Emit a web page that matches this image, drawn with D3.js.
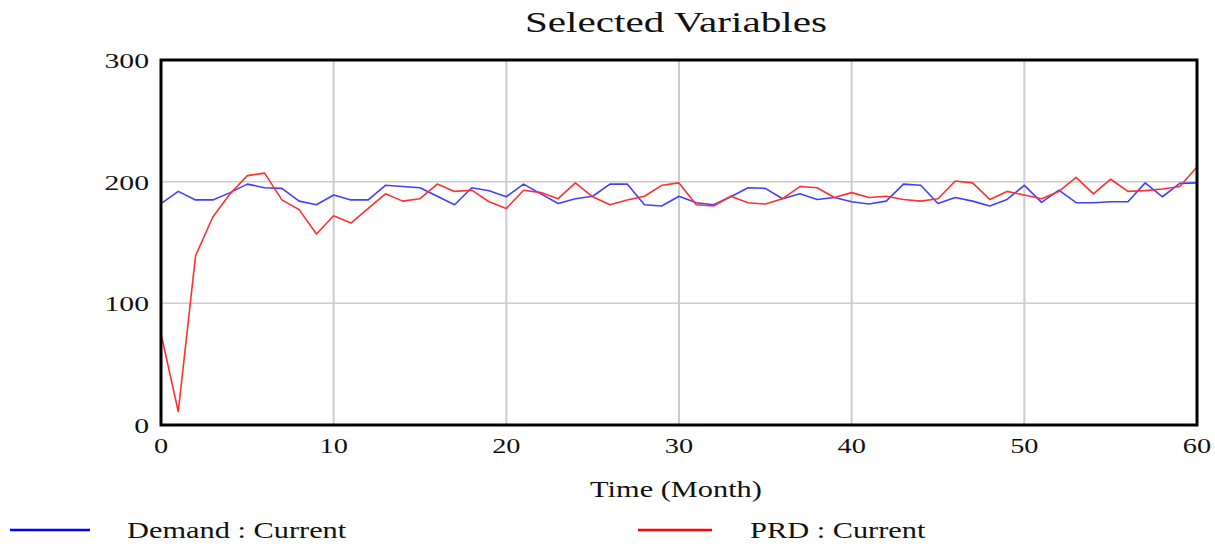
<!DOCTYPE html>
<html lang="en">

<head>
    <meta charset="UTF-8">
    <title>Selected Variables</title>
    <script src="https://d3js.org/d3.v7.min.js"></script>
    <style>
        body {
            margin: 0;
            background: #fff;
        }

        text {
            font-family: "Liberation Serif", "Times New Roman", serif;
            fill: #111;
        }
    </style>
</head>

<body>
    <svg id="chart"></svg>

    <script>
        const width = 1215;
        const height = 546;

        // Data (month 0..60)
        const months = d3.range(0, 61);
        const demand = [182, 192, 185, 185, 191, 198, 195, 194.5, 184, 181,
            189, 185, 185, 197, 196, 195, 188, 181, 195, 192.5,
            187.6, 198, 190, 182, 186, 188, 198, 198, 181, 180,
            188, 182.7, 181, 187.6, 195, 194.5, 186, 190, 185.4, 187,
            183.5, 181.6, 184, 198, 197, 182, 187, 184, 180, 185.4,
            197, 183, 193, 182.7, 182.7, 183.5, 183.5, 199, 187.6, 198.6,
            199];
        const prd = [75, 11, 139, 171, 190, 205, 207, 185, 177, 157,
            172, 166, 178, 190, 184, 186, 198, 192, 193, 183.5,
            178, 193, 191, 186, 199, 187.6, 181, 185, 188, 197,
            199, 181, 180, 188, 182.7, 181.6, 186, 196, 195, 187,
            191, 187, 188, 185.4, 184, 186, 200.5, 199, 185.4, 192,
            189, 186, 192, 203.5, 190, 202, 192, 192.6, 194, 196,
            212];
        const xTicks = [0, 10, 20, 30, 40, 50, 60];
        const yTicks = [0, 100, 200, 300];
        const seriesNames = ["Demand : Current", "PRD : Current"];
        const seriesColors = ["#4040ff", "#ff3030"];
        const legendColors = ["#0000ff", "#ff0000"];

        const svg = d3.select('#chart')
            .attr('width', width)
            .attr('height', height);

        const x = d3.scaleLinear().domain([0, 60]).range([161, 1197]);
        const y = d3.scaleLinear().domain([0, 300]).range([425, 60]);

        // text in the picture is stretched sideways
        const stretch = 1.35;
        function label(tx, ty, str, size, anchor) {
            return svg.append('text')
                .attr('transform', `translate(${tx},${ty}) scale(${stretch},1)`)
                .attr('font-size', size)
                .attr('text-anchor', anchor)
                .text(str);
        }

        // grid
        svg.append('g')
            .selectAll('line')
            .data(xTicks.slice(1, -1))
            .enter().append('line')
            .attr('x1', d => x(d)).attr('x2', d => x(d))
            .attr('y1', y(300)).attr('y2', y(0))
            .attr('stroke', '#cccccc')
            .attr('stroke-width', 2);

        svg.append('g')
            .selectAll('line')
            .data(yTicks.slice(1, -1))
            .enter().append('line')
            .attr('x1', x(0)).attr('x2', x(60))
            .attr('y1', d => y(d)).attr('y2', d => y(d))
            .attr('stroke', '#cccccc')
            .attr('stroke-width', 1.5);

        // lines
        const line = d3.line()
            .x((d, i) => x(months[i]))
            .y(d => y(d));

        [demand, prd].forEach((vals, i) => {
            svg.append('path')
                .datum(vals)
                .attr('fill', 'none')
                .attr('stroke', seriesColors[i])
                .attr('stroke-width', 1.6)
                .attr('stroke-linejoin', 'round')
                .attr('d', line);
        });

        // frame
        svg.append('rect')
            .attr('x', x(0)).attr('y', y(300))
            .attr('width', x(60) - x(0))
            .attr('height', y(0) - y(300))
            .attr('fill', 'none')
            .attr('stroke', '#000')
            .attr('stroke-width', 3);

        // tick labels
        yTicks.forEach(t => label(149, y(t) + 8, t, 22, 'end'));
        xTicks.forEach(t => label(x(t), 453, t, 21, 'middle'));

        // titles
        label(676, 32, 'Selected Variables', 30.5, 'middle');
        label(676, 497, 'Time (Month)', 22.5, 'middle');

        // legend
        const legendX = [[10, 90, 127], [638, 712, 750]];
        seriesNames.forEach((name, i) => {
            svg.append('line')
                .attr('x1', legendX[i][0]).attr('x2', legendX[i][1])
                .attr('y1', 530).attr('y2', 530)
                .attr('stroke', legendColors[i])
                .attr('stroke-width', 2.5);
            label(legendX[i][2], 538, name, 22.5, 'start');
        });
    </script>

</body>

</html>
